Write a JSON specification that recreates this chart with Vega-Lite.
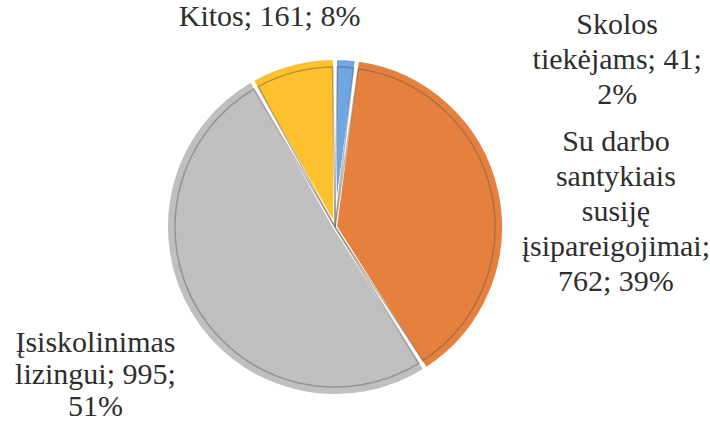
{
  "$schema": "https://vega.github.io/schema/vega-lite/v6.json",
  "autosize": "none",
  "width": 670,
  "height": 388,
  "padding": {"left": 0, "top": 33, "right": 40, "bottom": 0},
  "background": "white",
  "config": {"view": {"stroke": null}},
  "data": {
    "values": [
      {"category": "Skolos tiekėjams", "value": 41, "order": 1, "label": ["Skolos", "tiekėjams; 41;", "2%"]},
      {"category": "Su darbo santykiais susiję įsipareigojimai", "value": 762, "order": 2, "label": ["Su darbo", "santykiais", "susiję", "įsipareigojimai;", "762; 39%"]},
      {"category": "Įsiskolinimas lizingui", "value": 995, "order": 3, "label": ["Įsiskolinimas", "lizingui; 995;", "51%"]},
      {"category": "Kitos", "value": 161, "order": 4, "label": ["Kitos; 161; 8%"]}
    ]
  },
  "encoding": {
    "theta": {"field": "value", "type": "quantitative", "stack": true},
    "order": {"field": "order", "type": "quantitative", "sort": "ascending"}
  },
  "layer": [
    {
      "mark": {"type": "arc", "outerRadius": 169, "stroke": "white", "strokeWidth": 4},
      "encoding": {
        "color": {
          "field": "category",
          "type": "nominal",
          "legend": null,
          "scale": {
            "domain": ["Skolos tiekėjams", "Su darbo santykiais susiję įsipareigojimai", "Įsiskolinimas lizingui", "Kitos"],
            "range": ["#6ea6e6", "#e5803e", "#bfbfbf", "#fcc12c"]
          }
        }
      }
    },
    {
      "mark": {"type": "arc", "outerRadius": 160, "padAngle": 0.03, "fill": null, "stroke": "#6b5a4a", "strokeOpacity": 0.45, "strokeWidth": 1.5},
      "encoding": {}
    },
    {
      "mark": {"type": "text", "radius": 217, "dx": -10, "dy": 0, "font": "Liberation Serif", "fontSize": 30, "lineHeight": 35, "color": "#2e2e2e", "align": "center", "baseline": "middle"},
      "encoding": {"text": {"condition": {"test": "datum.category === 'Kitos'", "field": "label"}, "value": ""}}
    },
    {
      "mark": {"type": "text", "radius": 170, "dx": 271, "dy": -32, "font": "Liberation Serif", "fontSize": 30, "lineHeight": 35, "color": "#2e2e2e", "align": "center", "baseline": "middle"},
      "encoding": {"text": {"condition": {"test": "datum.category === 'Skolos tiekėjams'", "field": "label"}, "value": ""}}
    },
    {
      "mark": {"type": "text", "radius": 260, "dx": 27, "dy": -29, "font": "Liberation Serif", "fontSize": 30, "lineHeight": 35, "color": "#2e2e2e", "align": "center", "baseline": "middle"},
      "encoding": {"text": {"condition": {"test": "datum.category === 'Su darbo santykiais susiję įsipareigojimai'", "field": "label"}, "value": ""}}
    },
    {
      "mark": {"type": "text", "radius": 283, "dx": 3, "dy": -30, "font": "Liberation Serif", "fontSize": 30, "lineHeight": 32, "color": "#2e2e2e", "align": "center", "baseline": "middle"},
      "encoding": {"text": {"condition": {"test": "datum.category === 'Įsiskolinimas lizingui'", "field": "label"}, "value": ""}}
    }
  ]
}
